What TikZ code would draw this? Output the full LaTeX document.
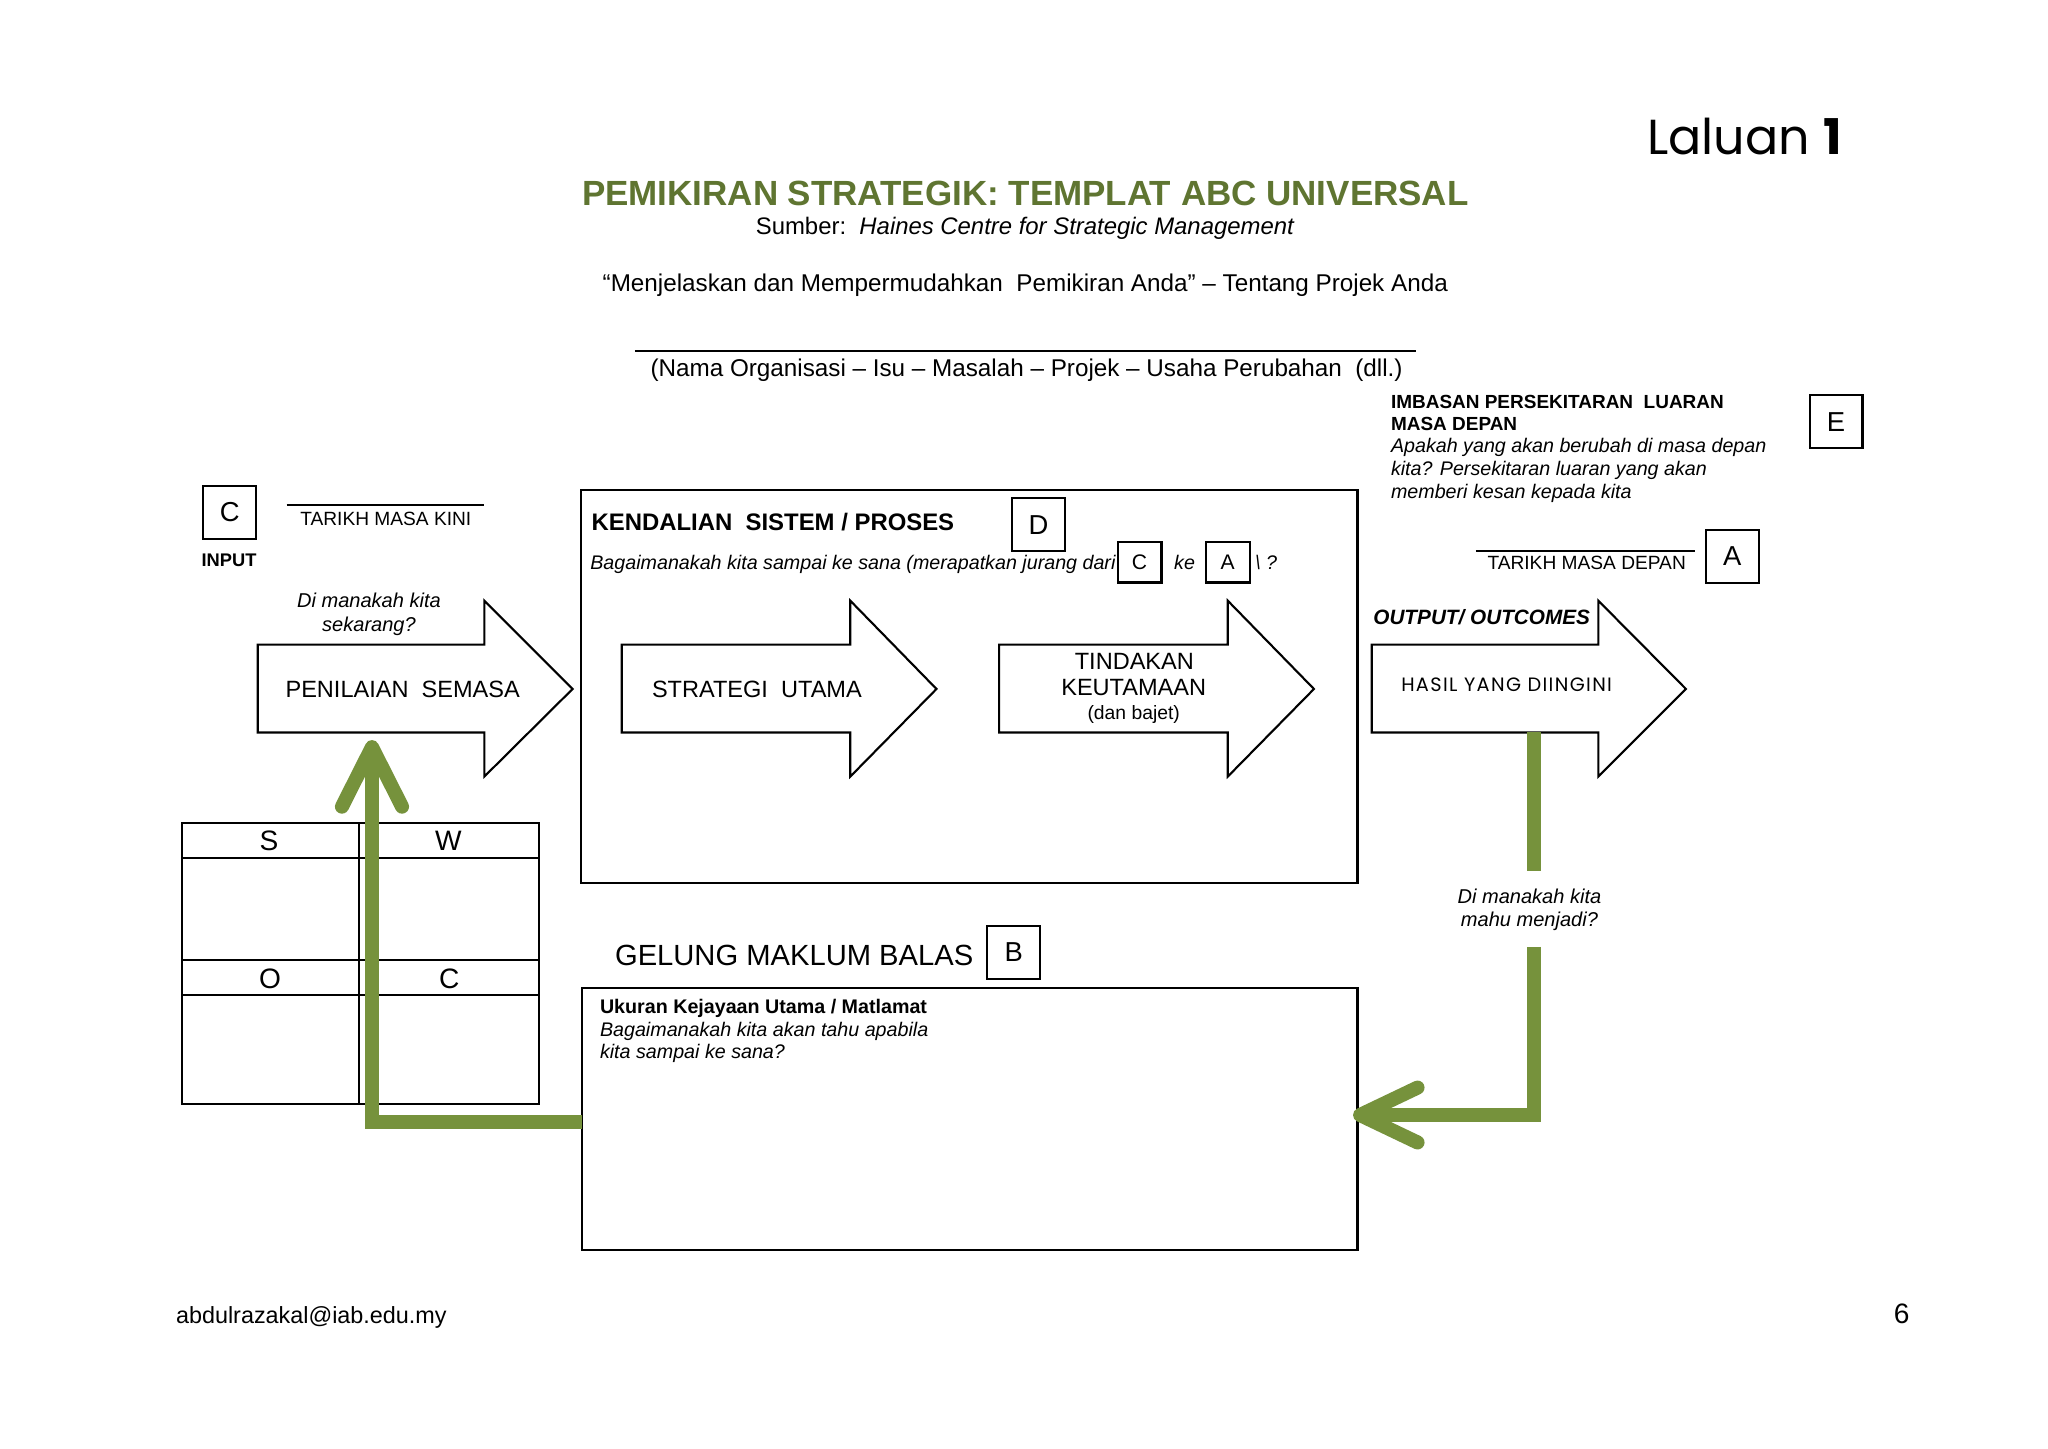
\documentclass[tikz,border=0pt]{standalone}
\usepackage{fontspec}
\setmainfont{Liberation Sans}
\newfontfamily\poppfont{Poppins}
\newfontfamily\poppwide[LetterSpace=7]{Poppins}
\usetikzlibrary{calc}
\definecolor{ogreen}{HTML}{76923C}
\definecolor{tgreen}{HTML}{5F7531}
\newcommand\fz[2]{\fontsize{#1pt}{#2pt}\selectfont}
\newcommand\blkarrow[3]{%
  \draw[barrow] (#1,493.6) -- (#2,493.6) -- (#2,459.9) -- (#3,527.5) -- (#2,594.6) -- (#2,560.8) -- (#1,560.8) -- cycle;}
\begin{document}
\begin{tikzpicture}[x=0.0130612cm,y=-0.0130612cm,
  every node/.style={inner sep=0pt, outer sep=0pt},
  tx/.style={anchor=base west},
  txc/.style={anchor=base},
  bline/.style={draw=black, line width=0.6pt},
  lbox/.style={draw=black, line width=0.6pt, minimum width=40.5*0.0130612cm, minimum height=41*0.0130612cm, font=\fz{7.8}{9}},
  sbox/.style={draw=black, line width=0.6pt, minimum width=33.5*0.0130612cm, minimum height=31*0.0130612cm, font=\fz{6}{7}},
  bigbox/.style={draw=black, line width=0.6pt},
  gline/.style={draw=ogreen, line width=4pt, line join=miter},
  ghead/.style={draw=ogreen, line width=4pt, line cap=round, line join=round},
  barrow/.style={draw=black, line width=0.6pt, line join=miter},
]
\fill[white] (0,0) rectangle (1568,1109.4);
\useasboundingbox (0,0) rectangle (1568,1109.4);

% header
\node[anchor=base east, font=\poppfont\fz{14}{16}] (laluan) at (1410,118) {Laluan \textbf{1}};
\node[txc, font=\bfseries\fz{9.95}{12}, text=tgreen] (title) at (785,157) {PEMIKIRAN STRATEGIK: TEMPLAT ABC UNIVERSAL};
\node[tx, font=\fz{6.8}{8}] (sumber) at (578.7,179.9) {Sumber:\ \ \textit{Haines Centre for Strategic Management}};
\node[txc, font=\fz{6.9}{8}] (quote) at (785,223.3) {“Menjelaskan dan Mempermudahkan\ \ Pemikiran Anda” – Tentang Projek Anda};
\coordinate (ul1) at (486,268.5);
\coordinate (ul2) at (1084,268.5);
\draw[bline] (ul1) -- (ul2);
\node[txc, font=\fz{6.9}{8}] (nama) at (786,288.4) {(Nama Organisasi – Isu – Masalah – Projek – Usaha Perubahan\ \ (dll.)};

% E block
\node[tx, font=\bfseries\fz{5.4}{6}] (imb1) at (1065,312.6) {IMBASAN PERSEKITARAN\ \ LUARAN};
\node[tx, font=\bfseries\fz{5.4}{6}] (imb2) at (1065,329.7) {MASA DEPAN};
\node[tx, font=\itshape\fz{5.6}{6}] (imb3) at (1065,346.6) {Apakah yang akan berubah di masa depan};
\node[tx, font=\itshape\fz{5.6}{6}] (imb4) at (1065,363.7) {kita? Persekitaran luaran yang akan};
\node[tx, font=\itshape\fz{5.6}{6}] (imb5) at (1065,381.5) {memberi kesan kepada kita};
\node[lbox] (boxE) at (1405.7,322.85) {E};

% C block
\node[lbox] (boxC) at (175.85,392.35) {C};
\coordinate (kl1) at (219.5,386.6);
\coordinate (kl2) at (370.6,386.6);
\draw[bline] (kl1) -- (kl2);
\node[txc, font=\fz{5.45}{6}] (kini) at (295.4,402) {TARIKH MASA KINI};
\node[tx, font=\bfseries\fz{5.2}{6}] (input) at (154.4,433.9) {INPUT};

% D box
\node[bigbox, minimum width=594.5*0.0130612cm, minimum height=301.1*0.0130612cm] (kend) at (742.05,525.75) {};
\node[tx, font=\bfseries\fz{6.8}{8}] (kendt) at (453,406.5) {KENDALIAN\ \ SISTEM / PROSES};
\node[lbox] (boxD) at (795.2,401.7) {D};
\node[tx, font=\itshape\fz{5.6}{6}] (bag) at (452,436) {Bagaimanakah kita sampai ke sana (merapatkan jurang dari};
\node[sbox] (boxC2) at (872.5,430.5) {C};
\node[tx, font=\itshape\fz{5.6}{6}] (ke) at (899,436) {ke};
\node[sbox] (boxA2) at (940,430.5) {A};
\node[tx, font=\itshape\fz{5.6}{6}] (qm) at (961,436) {\textbackslash\ ?};

% A block
\coordinate (dl1) at (1130,421.6);
\coordinate (dl2) at (1297.7,421.6);
\draw[bline] (dl1) -- (dl2);
\node[txc, font=\fz{5.45}{6}] (depan) at (1214.8,435.9) {TARIKH MASA DEPAN};
\node[lbox] (boxA) at (1326.3,426) {A};
\node[tx, font=\bfseries\itshape\fz{5.9}{7}] (outp) at (1051.5,478) {OUTPUT/ OUTCOMES};

% block arrows
\blkarrow{197.3}{370.8}{438.4}
\blkarrow{476}{651}{717}
\blkarrow{765}{940}{1006}
\blkarrow{1050.2}{1223.7}{1290.8}
\node[txc, font=\itshape\fz{5.7}{7}] (dimk1) at (282.5,465) {Di manakah kita};
\node[txc, font=\itshape\fz{5.7}{7}] (dimk2) at (282.5,483.6) {sekarang?};
\node[txc, font=\fz{6.7}{8}] (pen) at (308.3,534.1) {PENILAIAN\ \ SEMASA};
\node[txc, font=\fz{6.7}{8}] (strat) at (579.5,534) {STRATEGI\ \ UTAMA};
\node[txc, font=\fz{6.7}{8}] (tind1) at (868.5,512.5) {TINDAKAN};
\node[txc, font=\fz{6.7}{8}] (tind2) at (868,532.5) {KEUTAMAAN};
\node[txc, font=\fz{5.5}{6}] (tind3) at (868,550.5) {(dan bajet)};
\node[txc, font=\poppwide\fz{5.5}{6}] (hasil) at (1153.5,529.6) {HASIL YANG DIINGINI};

% SWOT table
\draw[bline] (139.1,629.9) rectangle (412.9,845.5);
\draw[bline] (274.9,629.9) -- (274.9,845.5);
\draw[bline] (139.1,656.7) -- (412.9,656.7);
\draw[bline] (139.1,735) -- (412.9,735);
\draw[bline] (139.1,761.8) -- (412.9,761.8);
\node[txc, font=\fz{8}{9}] (sS) at (206,650.8) {S};
\node[txc, font=\fz{8}{9}] (sW) at (343.3,650.8) {W};
\node[txc, font=\fz{8}{9}] (sO) at (206.7,756.7) {O};
\node[txc, font=\fz{8}{9}] (sC) at (344,756.7) {C};

% feedback box
\node[tx, font=\fz{8.3}{10}] (gel) at (470.9,739.3) {GELUNG MAKLUM BALAS};
\node[lbox] (boxB) at (776.2,729.25) {B};
\node[bigbox, minimum width=594*0.0130612cm, minimum height=200.8*0.0130612cm] (fbox) at (742.3,856.6) {};
\node[tx, font=\bfseries\fz{5.6}{7}] (uk1) at (459.4,776.3) {Ukuran Kejayaan Utama / Matlamat};
\node[tx, font=\itshape\fz{5.6}{7}] (uk2) at (459.4,793.7) {Bagaimanakah kita akan tahu apabila};
\node[tx, font=\itshape\fz{5.6}{7}] (uk3) at (459.4,810.3) {kita sampai ke sana?};

% green connectors
\coordinate (penbot) at (284.8,572);
\draw[gline] ($(fbox.west)+(0,2.2)$) -| ($(penbot)+(0,5)$);
\draw[ghead] ($(penbot)+(-23,45.6)$) -- (penbot) -- ($(penbot)+(23,45.6)$);

\coordinate (hasbot) at (1174.3,560.8);
\node[txc, font=\itshape\fz{5.7}{7}] (mahu1) at (1171,692.1) {Di manakah kita};
\node[txc, font=\itshape\fz{5.7}{7}] (mahu2) at (1171,709) {mahu menjadi?};
\coordinate (gaptop) at (1174.3,667);
\coordinate (gapbot) at (1174.3,725);
\coordinate (rtip) at ($(fbox.east)+(2,-2.9)$);
\draw[gline] (hasbot) -- (gaptop);
\draw[gline] (gapbot) |- ($(rtip)+(5,0)$);
\draw[ghead] ($(rtip)+(44,-21)$) -- (rtip) -- ($(rtip)+(44,21)$);

% footer
\node[tx, font=\fz{6.65}{8}] (mail) at (134.8,1013.2) {abdulrazakal@iab.edu.my};
\node[anchor=base east, font=\fz{8}{9}] (pg) at (1462,1013) {6};
\end{tikzpicture}
\end{document}
